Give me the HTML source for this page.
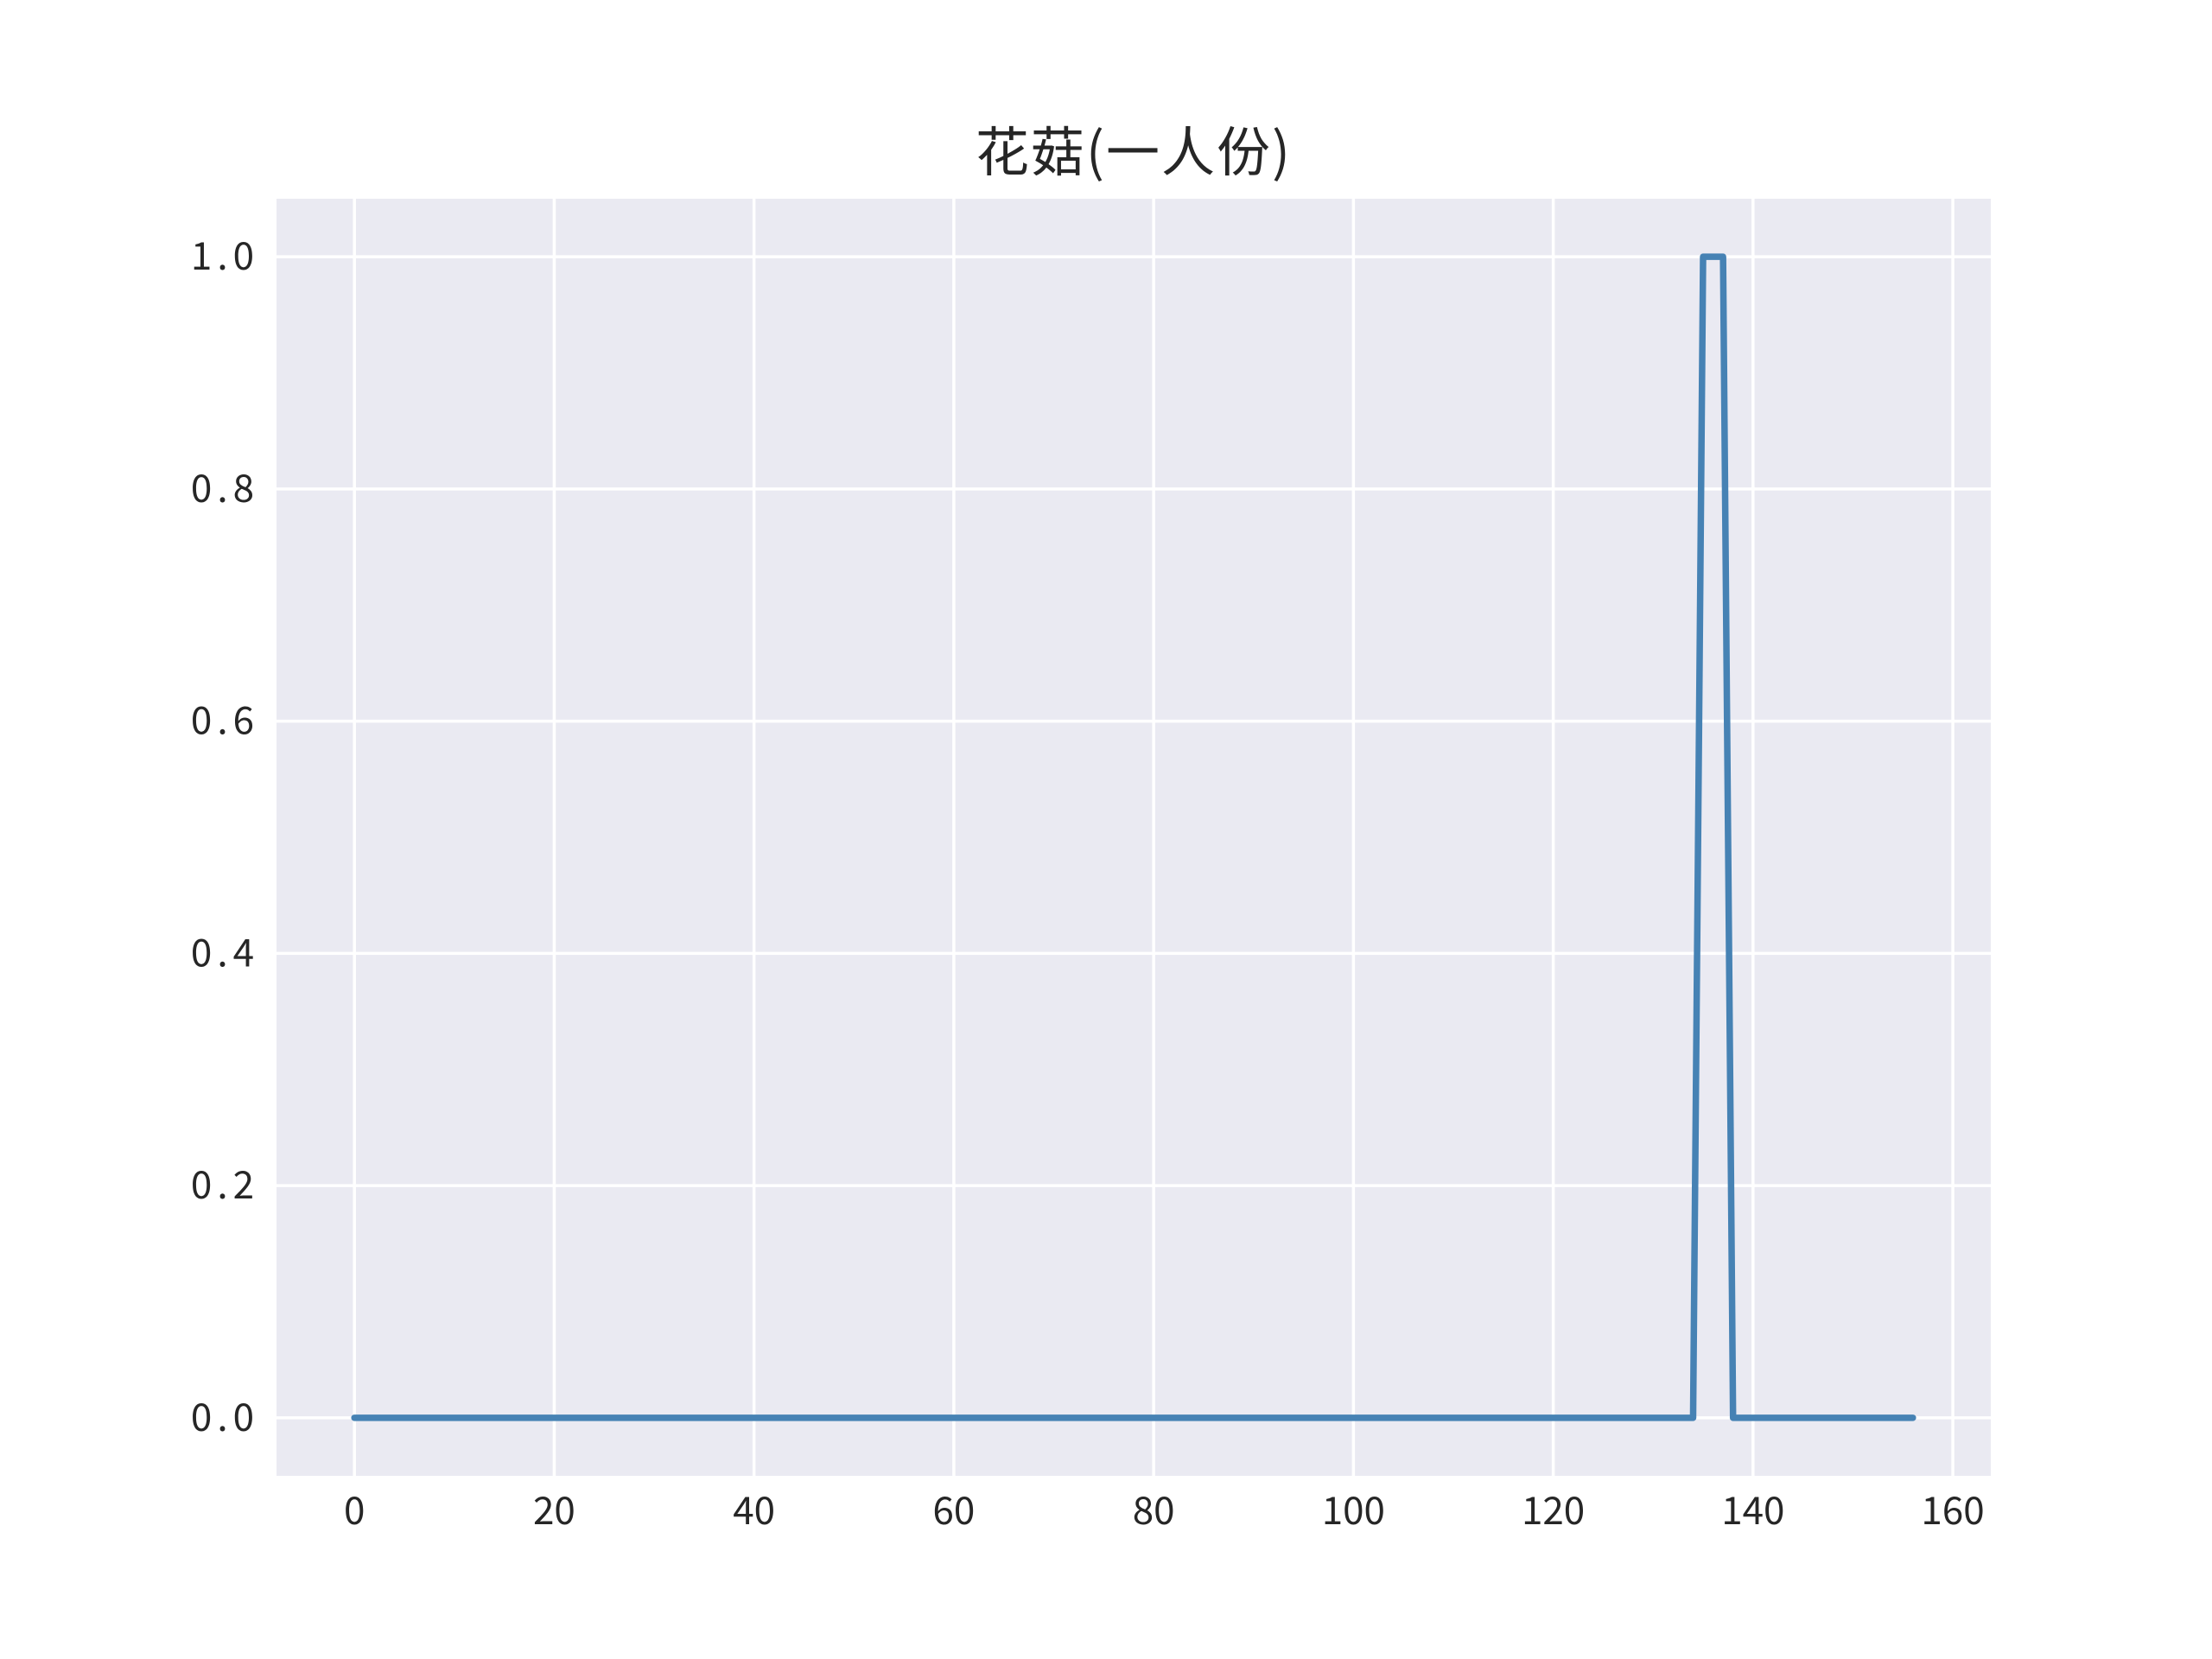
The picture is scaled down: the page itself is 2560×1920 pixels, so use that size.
<!DOCTYPE html>
<html><head><meta charset="utf-8"><style>
html,body{margin:0;padding:0;background:#fff;}
svg{display:block;}
text{font-family:"Noto Sans CJK SC","Liberation Sans",sans-serif;fill:#262626;}
</style></head><body>
<svg id="chart" width="2560" height="1920" viewBox="0 0 2560 1920" xmlns="http://www.w3.org/2000/svg">
<rect x="0" y="0" width="2560" height="1920" fill="#ffffff"/>
<rect x="320" y="230" width="1984" height="1478" fill="#eaeaf2"/>
<g id="grid"></g>
<g id="xticks"></g>
<g id="yticks"></g>
<path id="series" fill="none" stroke="#4682b4" stroke-width="7.5" stroke-linejoin="round" stroke-linecap="round"/>
<text x="1312" y="198" text-anchor="middle" font-size="62" letter-spacing="2">花菇(一人份)</text>
</svg>
<script>
const xTicks = [0,20,40,60,80,100,120,140,160];
const yTicks = [0.0,0.2,0.4,0.6,0.8,1.0];
const yTickLabels = ["0.0","0.2","0.4","0.6","0.8","1.0"];
const spikeDays = [135,136,137];
const nPoints = 157;
const values = [];
for (let i = 0; i < nPoints; i++) values.push(spikeDays.includes(i) ? 1 : 0);

const L=320,R=2304,T=230,B=1708;
const xMin=-7.8,xMax=163.8,yMin=-0.05,yMax=1.05;
const sx=v=>L+(v-xMin)/(xMax-xMin)*(R-L);
const sy=v=>B-(v-yMin)/(yMax-yMin)*(B-T);
const NS="http://www.w3.org/2000/svg";
const grid=document.getElementById('grid');
const gx=document.getElementById('xticks');
const gy=document.getElementById('yticks');
xTicks.forEach(t=>{
  const l=document.createElementNS(NS,'line');
  
  
  l.setAttribute('x1',sx(t));l.setAttribute('x2',sx(t));l.setAttribute('y1',T);l.setAttribute('y2',B);
  l.setAttribute('stroke','#fff');l.setAttribute('stroke-width','3.5');
  grid.appendChild(l);
  const tx=document.createElementNS(NS,'text');
  
  
  tx.setAttribute('x',sx(t));tx.setAttribute('y',1764);tx.setAttribute('text-anchor','middle');tx.setAttribute('font-size','44');
  tx.textContent=t;
  gx.appendChild(tx);
});
yTicks.forEach((t,i)=>{
  const l=document.createElementNS(NS,'line');
  
  
  l.setAttribute('x1',L);l.setAttribute('x2',R);l.setAttribute('y1',sy(t));l.setAttribute('y2',sy(t));
  l.setAttribute('stroke','#fff');l.setAttribute('stroke-width','3.5');
  grid.appendChild(l);
  const tx=document.createElementNS(NS,'text');
  
  
  tx.setAttribute('x',300);tx.setAttribute('y',sy(t)+15);tx.setAttribute('text-anchor','end');tx.setAttribute('font-size','44');
  tx.setAttribute('letter-spacing','6');
  tx.textContent=yTickLabels[i];
  gy.appendChild(tx);
});
document.getElementById('series').setAttribute('d',values.map((v,i)=>(i?'L':'M')+sx(i)+' '+sy(v)).join(' '));
</script>
</body></html>
